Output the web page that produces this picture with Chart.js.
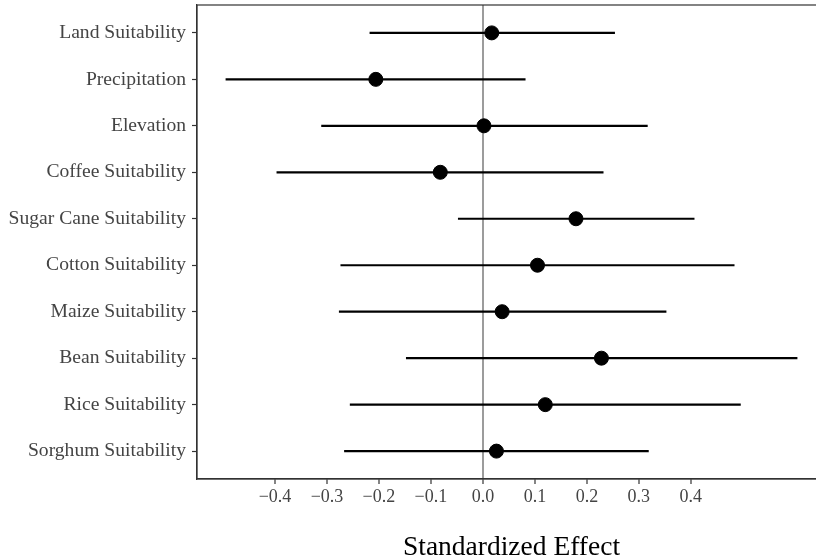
<!DOCTYPE html>
<html>
<head>
<meta charset="utf-8">
<script src="https://cdn.jsdelivr.net/npm/chart.js@4"></script>
<style>
  html, body { margin: 0; padding: 0; background: #fff; overflow: hidden; }
  #wrap { width: 834px; height: 560px; }
</style>
</head>
<body>
<div id="wrap"><canvas id="c" width="834" height="560"></canvas></div>
<script>
const categories = ['Land Suitability', 'Precipitation', 'Elevation', 'Coffee Suitability',
  'Sugar Cane Suitability', 'Cotton Suitability', 'Maize Suitability', 'Bean Suitability',
  'Rice Suitability', 'Sorghum Suitability'];
const estimate = [0.017, -0.206, 0.002, -0.082, 0.179, 0.105, 0.037, 0.228, 0.120, 0.026];
const lower = [-0.218, -0.495, -0.311, -0.397, -0.048, -0.274, -0.277, -0.148, -0.256, -0.267];
const upper = [0.254, 0.082, 0.317, 0.232, 0.407, 0.484, 0.353, 0.605, 0.496, 0.319];
const xTicks = [-0.4, -0.3, -0.2, -0.1, 0.0, 0.1, 0.2, 0.3, 0.4];
const xTitle = 'Standardized Effect';

const SERIF = '"Liberation Serif", "Times New Roman", serif';

const ciDatasets = categories.map((c, i) => ({
  type: 'line',
  label: c + ' CI',
  data: [{ x: lower[i], y: i }, { x: upper[i], y: i }],
  borderColor: '#000',
  borderWidth: 2.2,
  pointRadius: 0,
  fill: false,
  order: 2
}));

const pointDataset = {
  type: 'scatter',
  label: 'Estimate',
  data: categories.map((c, i) => ({ x: estimate[i], y: i })),
  backgroundColor: '#000',
  borderColor: '#000',
  pointRadius: 7,
  pointHoverRadius: 7,
  order: 1
};

const panelBorder = {
  id: 'panelBorder',
  afterDraw(chart) {
    const a = chart.chartArea, ctx = chart.ctx;
    ctx.save();
    ctx.strokeStyle = '#333333';
    ctx.lineWidth = 1.2;
    ctx.strokeRect(a.left, a.top, a.right - a.left, a.bottom - a.top);
    ctx.restore();
  }
};

new Chart(document.getElementById('c'), {
  type: 'scatter',
  data: { datasets: [...ciDatasets, pointDataset] },
  options: {
    responsive: false,
    devicePixelRatio: 1,
    animation: false,
    layout: { autoPadding: false, padding: { top: 5, right: 8, left: 0, bottom: 0 } },
    plugins: { legend: { display: false }, tooltip: { enabled: false } },
    scales: {
      x: {
        type: 'linear',
        min: -0.55,
        max: 0.66,
        afterBuildTicks: s => { s.ticks = xTicks.map(v => ({ value: v })); },
        afterFit: s => { s.height = 81; s.paddingLeft = 0; s.paddingRight = 0; },
        ticks: {
          font: { family: SERIF, size: 18 },
          color: '#444444',
          padding: 2,
          maxRotation: 0,
          autoSkip: false,
          callback: v => (Math.abs(v) < 1e-9 ? '0.0' : v.toFixed(1).replace('-', '\u2212'))
        },
        grid: {
          drawOnChartArea: true,
          color: ctx => (ctx.tick && Math.abs(ctx.tick.value) < 1e-9 ? '#9c9c9c' : 'rgba(0,0,0,0)'),
          lineWidth: 2,
          tickColor: '#333333',
          tickWidth: 1.2,
          tickLength: 5
        },
        border: { display: true, color: '#333333', width: 1.2 },
        title: {
          display: true,
          text: xTitle,
          color: '#000',
          font: { family: SERIF, size: 27.5, lineHeight: 0.9 },
          padding: { top: 0, bottom: 0 }
        }
      },
      y: {
        type: 'linear',
        reverse: true,
        min: -0.6,
        max: 9.6,
        afterBuildTicks: s => { s.ticks = categories.map((c, i) => ({ value: i })); },
        afterFit: s => { s.width = 197; s.paddingTop = 0; s.paddingBottom = 0; },
        ticks: {
          font: { family: SERIF, size: 19.6 },
          color: '#444444',
          padding: 6,
          autoSkip: false,
          callback: v => categories[v]
        },
        grid: {
          drawOnChartArea: false,
          tickColor: '#333333',
          tickWidth: 1.2,
          tickLength: 5
        },
        border: { display: true, color: '#333333', width: 1.2 }
      }
    }
  },
  plugins: [panelBorder]
});
</script>
</body>
</html>
